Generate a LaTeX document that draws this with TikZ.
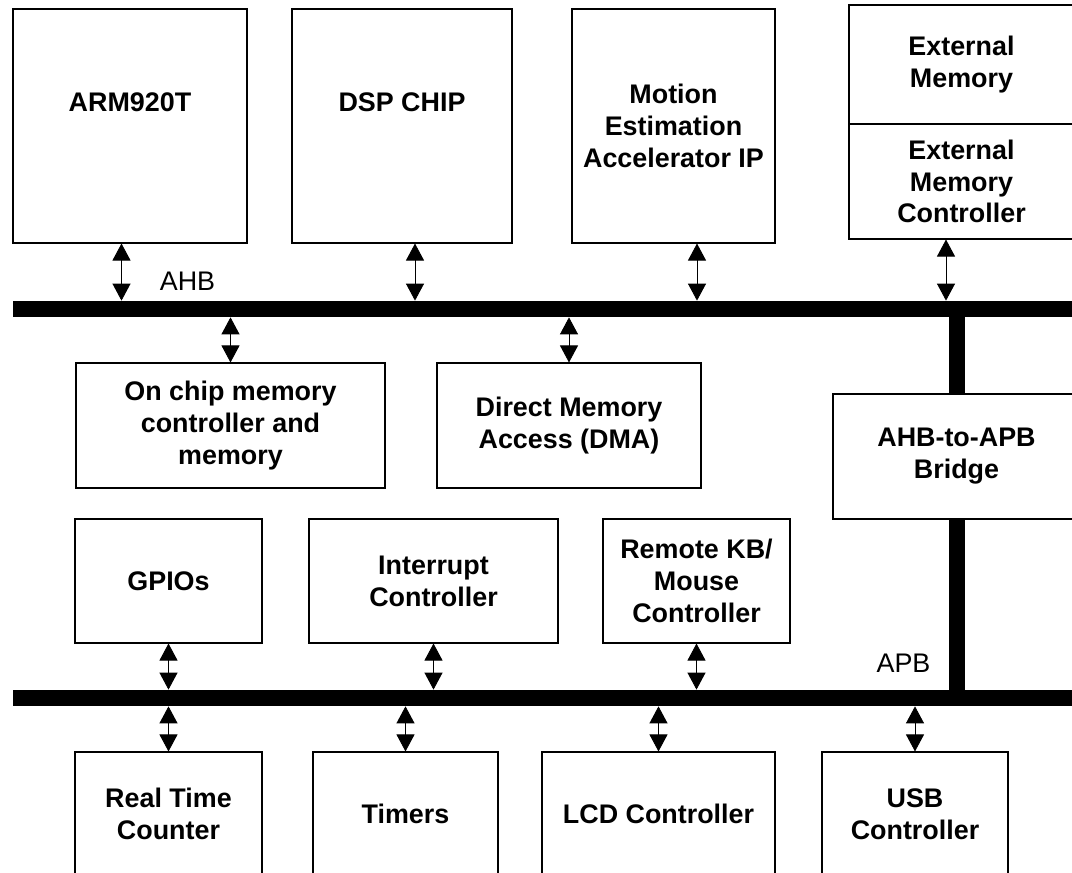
\documentclass[tikz,border=0pt]{standalone}
\usepackage{fontspec}
\setmainfont{Liberation Sans}
\usetikzlibrary{arrows.meta}

\begin{document}
\begin{tikzpicture}[
  blk/.style={draw, line width=0.6pt, fill=white, align=center, inner sep=0pt, font=\fontsize{15.3}{18.1}\selectfont\bfseries},
  raised/.style={text depth=0.96cm},
  bus/.style={fill=black, inner sep=0pt, minimum height=0.32cm},
  busname/.style={font=\fontsize{15.3}{18.1}\selectfont},
  biarrow/.style={<->, >={Triangle[width=0.36cm,length=0.34cm]}, line width=0.5pt}
]
\useasboundingbox (0,0) rectangle (21.44,17.46);
\clip (0,0) rectangle (21.44,17.46);
\node[bus, minimum width=21.34cm] (ahb) at (10.93,11.28) {};
\node[bus, minimum width=21.34cm] (apb) at (10.93,3.50) {};
\node[blk, raised, minimum width=4.68cm, minimum height=4.68cm] (arm) at (2.60,14.94) {ARM920T};
\node[blk, raised, minimum width=4.40cm, minimum height=4.68cm] (dsp) at (8.04,14.94) {DSP CHIP};
\node[blk, minimum width=4.06cm, minimum height=4.68cm] (motion) at (13.47,14.94) {Motion\\Estimation\\Accelerator IP};
\node[blk, minimum width=4.50cm, minimum height=2.38cm] (extmem) at (19.23,16.17) {External\\Memory};
\node[blk, minimum width=4.50cm, minimum height=2.30cm] (extctrl) at (19.23,13.83) {External\\Memory\\Controller};
\node[blk, minimum width=6.18cm, minimum height=2.50cm] (onchip) at (4.61,8.95) {On chip memory\\controller and\\memory};
\node[blk, minimum width=5.28cm, minimum height=2.50cm] (dma) at (11.38,8.95) {Direct Memory\\Access (DMA)};
\node[blk, minimum width=4.94cm, minimum height=2.50cm] (bridge) at (19.13,8.33) {AHB-to-APB\\Bridge};
\node[blk, minimum width=3.74cm, minimum height=2.48cm] (gpio) at (3.37,5.84) {GPIOs};
\node[blk, minimum width=4.98cm, minimum height=2.48cm] (intr) at (8.67,5.84) {Interrupt\\Controller};
\node[blk, minimum width=3.74cm, minimum height=2.48cm] (remote) at (13.93,5.84) {Remote KB/\\Mouse\\Controller};
\node[blk, minimum width=3.74cm, minimum height=2.48cm] (rtc) at (3.37,1.18) {Real Time\\Counter};
\node[blk, minimum width=3.70cm, minimum height=2.48cm] (timers) at (8.11,1.18) {Timers};
\node[blk, minimum width=4.66cm, minimum height=2.48cm] (lcd) at (13.17,1.18) {LCD Controller};
\node[blk, minimum width=3.72cm, minimum height=2.48cm] (usb) at (18.30,1.18) {USB\\Controller};
\draw[line width=0.32cm] (bridge.north) -- (bridge.north |- ahb.center);
\draw[line width=0.32cm] (bridge.south) -- (bridge.south |- apb.center);
\node[busname] (ahbname) at (3.75,11.84) {AHB};
\node[busname] (apbname) at (18.07,4.20) {APB};
\foreach \n/\dx in {arm/-0.17, dsp/0.26, motion/0.47, extctrl/-0.31}
  \draw[biarrow] ([xshift=\dx cm]\n.south) -- ([xshift=\dx cm]\n.south |- ahb.north);
\foreach \n in {onchip, dma}
  \draw[biarrow] (\n.north) -- (\n.north |- ahb.south);
\foreach \n in {gpio, intr, remote}
  \draw[biarrow] (\n.south) -- (\n.south |- apb.north);
\foreach \n in {rtc, timers, lcd, usb}
  \draw[biarrow] (\n.north) -- (\n.north |- apb.south);
\end{tikzpicture}
\end{document}
